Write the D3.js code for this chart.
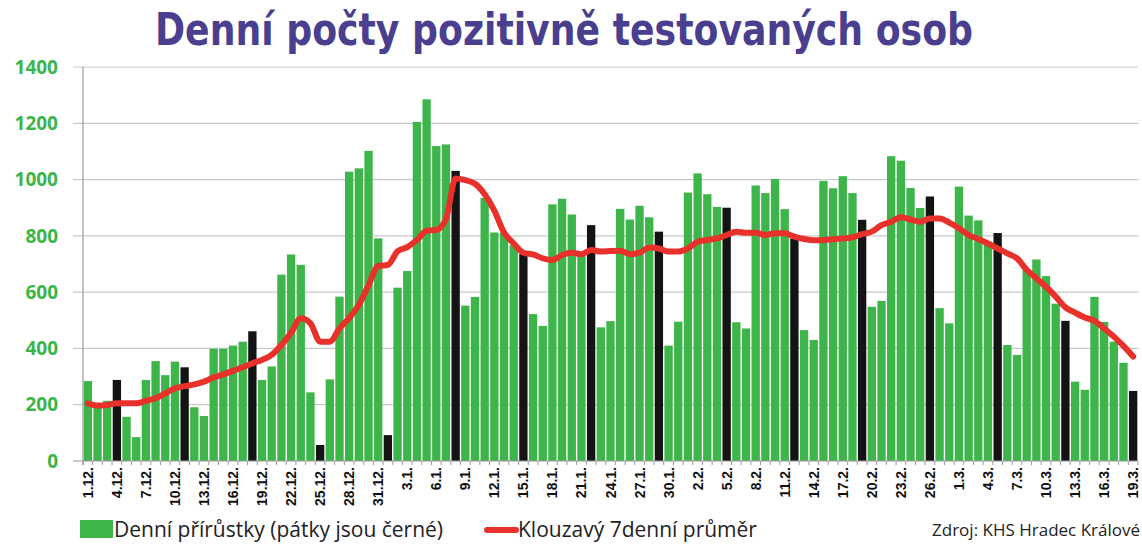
<!DOCTYPE html>
<html><head><meta charset="utf-8">
<script src="https://cdn.jsdelivr.net/npm/d3@7"></script>
<style>body{margin:0;background:#fff}svg{display:block}</style>
</head><body>
<svg id="chart" width="1142" height="547"></svg>
<script>
// Dates 1.12. – 19.3. (109 days)
const months = [{m:12, n:31},{m:1, n:31},{m:2, n:28},{m:3, n:19}];
const dates = [];
months.forEach(o => { for (let d = 1; d <= o.n; d++) dates.push(d + "." + o.m + "."); });

const dailyCases = [
 284,205,214,288,157,85,288,355,305,353,333,191,160,399,399,410,424,461,288,336,
 662,734,697,244,57,290,584,1028,1040,1102,791,92,616,675,1205,1285,1119,1125,1031,552,
 583,935,812,812,767,735,522,480,912,932,876,740,838,475,497,896,858,907,866,815,
 410,495,954,1022,948,903,900,493,471,979,952,1002,895,790,465,430,995,969,1012,952,
 857,548,569,1083,1067,970,899,940,543,489,975,872,855,780,810,412,377,680,716,657,
 559,498,282,253,583,494,424,349,249
];
const movingAvg = [
 205,197,199,205,205,205,214,223,240,258,266,272,282,297,308,320,333,347,359,377,
 412,456,507,489,424,424,471,508,555,625,693,697,745,760,785,818,821,860,1004,998,
 985,948,890,812,773,740,734,720,714,732,740,735,750,744,746,747,735,740,759,755,
 744,744,755,779,785,791,803,815,811,811,803,809,809,797,789,784,785,788,791,795,
 806,815,838,850,866,858,850,862,862,847,827,803,789,773,755,738,720,679,649,619,
 584,546,527,510,498,471,442,409,371
];
const fridays = [3,10,17,24,31,38,45,52,59,66,73,80,87,94,101,108];
const yTicks = [0,200,400,600,800,1000,1200,1400];

const svg = d3.select("#chart");
const pL = 83, pR = 1138, pT = 67, pB = 461;

const x = d3.scaleBand().domain(d3.range(dates.length)).range([pL, pR]).paddingInner(0.14).paddingOuter(0.07);
const y = d3.scaleLinear().domain([0, 1400]).range([pB, pT]);

// title
svg.append("text").attr("x", 564).attr("y", 45).attr("text-anchor", "middle")
  .attr("font-family", "DejaVu Sans Condensed, DejaVu Sans, Liberation Sans, sans-serif").attr("font-weight", "bold")
  .attr("font-size", 44).attr("fill", "#4a3e8f")
  .attr("textLength", 818).attr("lengthAdjust", "spacingAndGlyphs")
  .text("Denní počty pozitivně testovaných osob");

// gridlines
svg.append("g").selectAll("line").data(yTicks.filter(d => d > 0)).join("line")
  .attr("x1", pL - 10).attr("x2", pR).attr("y1", d => y(d)).attr("y2", d => y(d))
  .attr("stroke", "#c9c9c9").attr("stroke-width", 1.2);

// y labels
svg.append("g").selectAll("text").data(yTicks).join("text")
  .attr("x", 58).attr("y", d => y(d)).attr("dy", "0.35em").attr("text-anchor", "end")
  .attr("font-family", "Open Sans, Liberation Sans, sans-serif").attr("font-weight", "bold")
  .attr("font-size", 19).attr("fill", "#3db54a").text(d => d);

// bars
svg.append("g").selectAll("rect").data(dailyCases).join("rect")
  .attr("x", (d, i) => x(i)).attr("width", x.bandwidth())
  .attr("y", d => y(d)).attr("height", d => y(0) - y(d))
  .attr("fill", (d, i) => fridays.includes(i) ? "#141414" : "#3db54a");

// axes lines
svg.append("line").attr("x1", pL).attr("x2", pL).attr("y1", pT).attr("y2", pB + 4)
  .attr("stroke", "#999").attr("stroke-width", 1.2);
svg.append("line").attr("x1", pL - 10).attr("x2", pR).attr("y1", pB).attr("y2", pB)
  .attr("stroke", "#999").attr("stroke-width", 1.2);
// x ticks at category boundaries
svg.append("g").selectAll("line").data(d3.range(dates.length + 1)).join("line")
  .attr("x1", i => pL + i * x.step()).attr("x2", i => pL + i * x.step())
  .attr("y1", pB).attr("y2", pB + 4).attr("stroke", "#999").attr("stroke-width", 1);

// x labels every 3 days
svg.append("g").selectAll("text").data(d3.range(0, dates.length, 3)).join("text")
  .attr("transform", i => `translate(${x(i) + x.bandwidth() / 2 + 5},467) rotate(-90)`)
  .attr("text-anchor", "end")
  .attr("font-family", "Liberation Sans, Arial, sans-serif").attr("font-weight", "bold")
  .attr("font-size", 14).attr("fill", "#111").text(i => dates[i]);

// moving average line
const line = d3.line().x((d, i) => x(i) + x.bandwidth() / 2).y(d => y(d)).curve(d3.curveMonotoneX);
svg.append("path").datum(movingAvg).attr("d", line).attr("fill", "none")
  .attr("stroke", "#e8312b").attr("stroke-width", 6).attr("stroke-linejoin", "round").attr("stroke-linecap", "round");

// legend
const lg = svg.append("g").attr("font-family", "Open Sans, Liberation Sans, sans-serif").attr("fill", "#222");
lg.append("rect").attr("x", 80).attr("y", 520).attr("width", 33).attr("height", 18).attr("fill", "#3db54a");
lg.append("text").attr("x", 114).attr("y", 537).attr("font-size", 21).text("Denní přírůstky (pátky jsou černé)");
lg.append("line").attr("x1", 487).attr("x2", 516).attr("y1", 530).attr("y2", 530)
  .attr("stroke", "#e8312b").attr("stroke-width", 6).attr("stroke-linecap", "round");
lg.append("text").attr("x", 518).attr("y", 537).attr("font-size", 21).text("Klouzavý 7denní průměr");
lg.append("text").attr("x", 1140).attr("y", 536).attr("text-anchor", "end").attr("font-size", 17).text("Zdroj: KHS Hradec Králové");
</script>
</body></html>
